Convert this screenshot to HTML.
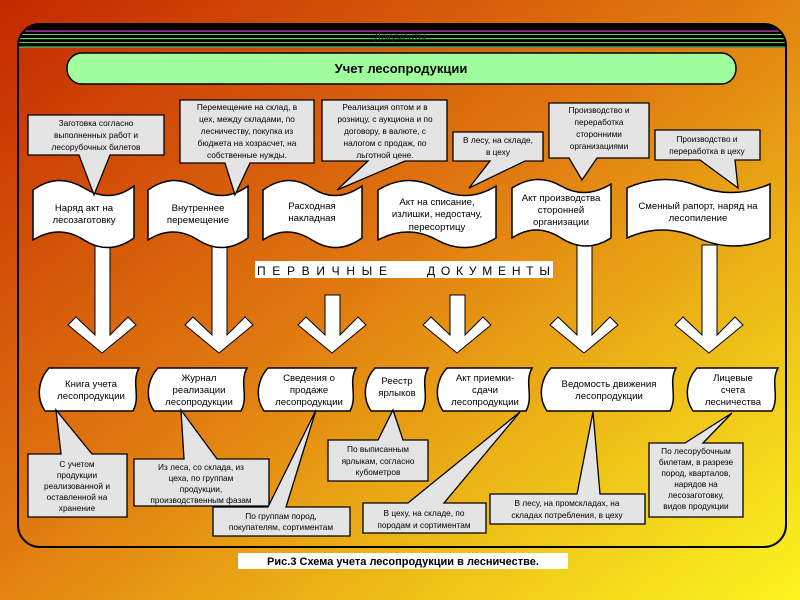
<!DOCTYPE html>
<html><head><meta charset="utf-8"><style>
html,body{margin:0;padding:0;width:800px;height:600px;overflow:hidden}
svg{display:block}
text{font-family:"Liberation Sans",sans-serif;fill:#000}
.c{font-size:8.3px;text-anchor:middle}
.d{font-size:9.6px;text-anchor:middle}
.cl{fill:#e4e4e4;stroke:#000;stroke-width:1.3}
.dc{fill:#fff;stroke:#000;stroke-width:1.5}
.ar{fill:#fff;stroke:#000;stroke-width:1}
</style></head><body>
<svg width="800" height="600" viewBox="0 0 800 600" xmlns="http://www.w3.org/2000/svg">
<defs>
<linearGradient id="bg" x1="0" y1="0" x2="1" y2="1">
<stop offset="0" stop-color="#c42800"/>
<stop offset="0.45" stop-color="#e07810"/>
<stop offset="0.75" stop-color="#eec018"/>
<stop offset="1" stop-color="#fbf520"/>
</linearGradient>
<clipPath id="fr"><rect x="18" y="24" width="768" height="523" rx="22"/></clipPath>
</defs>
<rect width="800" height="600" fill="url(#bg)"/>
<g clip-path="url(#fr)">
<rect x="18" y="24" width="768" height="24" fill="#000"/>
<rect x="18" y="30.5" width="768" height="1.2" fill="#d040d0"/>
<rect x="18" y="34" width="768" height="1" fill="#60d060"/>
<rect x="18" y="38" width="768" height="1.2" fill="#60d060"/>
<rect x="18" y="42" width="768" height="1" fill="#60d060"/>
<rect x="18" y="46.5" width="768" height="1.2" fill="#70e070"/>
</g>
<text x="400" y="40" style="font-size:10px;text-anchor:middle;fill:#222">Документы</text>
<rect x="18" y="24" width="768" height="523" rx="22" fill="none" stroke="#000" stroke-width="2"/>
<rect x="67" y="53" width="669" height="31" rx="15" fill="#a0ff9c" stroke="#000" stroke-width="1.5"/>
<text x="401" y="73" style="font-size:13px;font-weight:bold;text-anchor:middle">Учет лесопродукции</text>

<g class="ar">
<polygon points="95,245 110,245 110,335 128,317 136,325 102,353 68,325 76,317 95,335"/>
<polygon points="212,245 227,245 227,335 245,317 253,325 219,353 185,325 193,317 212,335"/>
<polygon points="325,295 340,295 340,335 358,317 366,325 332,353 298,325 306,317 325,335"/>
<polygon points="450,295 465,295 465,335 483,317 491,325 457,353 423,325 431,317 450,335"/>
<polygon points="577,245 592,245 592,335 610,317 618,325 584,353 550,325 558,317 577,335"/>
<polygon points="702,245 717,245 717,335 735,317 743,325 709,353 675,325 683,317 702,335"/>
</g>

<g class="dc">
<path d="M33 190 Q58 172 84 188 T134 186 L134 238 Q109 256 84 240 T33 240 Z"/>
<path d="M148 190 Q173 172 198 188 T248 186 L248 238 Q223 256 198 240 T148 240 Z"/>
<path d="M263 190 Q288 172 312 188 T362 186 L362 238 Q337 256 312 240 T263 240 Z"/>
<path d="M378 190 Q407 172 437 188 T496 186 L496 238 Q466 256 437 240 T378 240 Z"/>
<path d="M512 188 Q537 172 561 186 T611 184 L611 238 Q586 254 561 238 T512 238 Z"/>
<path d="M627 188 Q663 172 698 186 T770 184 L770 238 Q734 254 698 238 T627 238 Z"/>
</g>
<text class="d" x="84" y="211">Наряд акт на</text><text class="d" x="84" y="223">лесозаготовку</text>
<text class="d" x="198" y="211">Внутреннее</text><text class="d" x="198" y="223">перемещение</text>
<text class="d" x="312" y="209">Расходная</text><text class="d" x="312" y="221">накладная</text>
<text class="d" x="437" y="205">Акт на списание,</text><text class="d" x="437" y="217">излишки, недостачу,</text><text class="d" x="437" y="230">пересортицу</text>
<text class="d" x="561" y="201">Акт производства</text><text class="d" x="561" y="213">сторонней</text><text class="d" x="561" y="225">организации</text>
<text class="d" x="698" y="209">Сменный рапорт, наряд на</text><text class="d" x="698" y="221">лесопиление</text>

<g class="cl">
<path d="M28 115 H164 V155 H110 L94 195 L79 155 H28 Z"/>
<path d="M180 100 H314 V163 H250 L235 195 L225 163 H180 Z"/>
<path d="M322 100 H447 V161 H405 L337 190 L368 161 H322 Z"/>
<path d="M453 132 H543 V161 H525 L469 188 L490 161 H453 Z"/>
<path d="M549 103 H649 V158 H597 L582 180 L569 158 H549 Z"/>
<path d="M655 130 H760 V160 H735 L738 188 L700 160 H655 Z"/>
</g>
<text class="c" x="96" y="126">Заготовка согласно</text><text class="c" x="96" y="138">выполненных работ и</text><text class="c" x="96" y="150">лесорубочных билетов</text>
<text class="c" x="247" y="110">Перемещение на склад, в</text><text class="c" x="247" y="122">цех, между складами, по</text><text class="c" x="247" y="134">лесничеству, покупка из</text><text class="c" x="247" y="146">бюджета на хозрасчет, на</text><text class="c" x="247" y="158">собственные нужды.</text>
<text class="c" x="385" y="110">Реализация оптом и в</text><text class="c" x="385" y="122">розницу, с аукциона и по</text><text class="c" x="385" y="134">договору, в валюте, с</text><text class="c" x="385" y="146">налогом с продаж, по</text><text class="c" x="385" y="158">льготной цене.</text>
<text class="c" x="498" y="143">В лесу, на складе,</text><text class="c" x="498" y="155">в цеху</text>
<text class="c" x="599" y="113">Производство и</text><text class="c" x="599" y="125">переработка</text><text class="c" x="599" y="137">сторонними</text><text class="c" x="599" y="149">организациями</text>
<text class="c" x="707" y="142">Производство и</text><text class="c" x="707" y="154">переработка в цеху</text>

<rect x="255" y="261" width="298" height="17" fill="#fff"/>
<text x="257" y="275" textLength="130" lengthAdjust="spacing" style="font-size:12px">ПЕРВИЧНЫЕ</text>
<text x="427" y="275" textLength="123" lengthAdjust="spacing" style="font-size:12px">ДОКУМЕНТЫ</text>

<g class="dc">
<path d="M49 368 L139 368 C131 383 141 396 133 411 L45 411 C36 398 38 380 49 368 Z"/>
<path d="M158 368 L247 368 C239 383 249 396 241 411 L154 411 C145 398 147 380 158 368 Z"/>
<path d="M268 368 L356 368 C348 383 358 396 350 411 L264 411 C255 398 257 380 268 368 Z"/>
<path d="M375 368 L428 368 C420 383 430 396 422 411 L371 411 C362 398 364 380 375 368 Z"/>
<path d="M447 368 L532 368 C524 383 534 396 526 411 L443 411 C434 398 436 380 447 368 Z"/>
<path d="M551 368 L676 368 C668 383 678 396 670 411 L547 411 C538 398 540 380 551 368 Z"/>
<path d="M697 368 L778 368 C770 383 780 396 772 411 L693 411 C684 398 686 380 697 368 Z"/>
</g>
<text class="d" x="91" y="387">Книга учета</text><text class="d" x="91" y="399">лесопродукции</text>
<text class="d" x="199" y="381">Журнал</text><text class="d" x="199" y="393">реализации</text><text class="d" x="199" y="405">лесопродукции</text>
<text class="d" x="309" y="381">Сведения о</text><text class="d" x="309" y="393">продаже</text><text class="d" x="309" y="405">лесопродукции</text>
<text class="d" x="397" y="384">Реестр</text><text class="d" x="397" y="396">ярлыков</text>
<text class="d" x="485" y="381">Акт приемки-</text><text class="d" x="485" y="393">сдачи</text><text class="d" x="485" y="405">лесопродукции</text>
<text class="d" x="609" y="387">Ведомость движения</text><text class="d" x="609" y="399">лесопродукции</text>
<text class="d" x="733" y="381">Лицевые</text><text class="d" x="733" y="393">счета</text><text class="d" x="733" y="405">лесничества</text>

<g class="cl">
<path d="M28 454 H61 L56 410 L92 454 H127 V517 H28 Z"/>
<path d="M134 459 H184 L181 410 L217 459 H269 V506 H134 Z"/>
<path d="M213 507 H268 L316 410 L286 507 H350 V536 H213 Z"/>
<path d="M328 440 H378 L393 410 L403 440 H428 V481 H328 Z"/>
<path d="M363 503 H408 L520 412 L444 503 H486 V533 H363 Z"/>
<path d="M490 494 H577 L593 412 L600 494 H645 V524 H490 Z"/>
<path d="M649 443 H685 L732 413 L703 443 H743 V517 H649 Z"/>
</g>
<text class="c" x="77" y="467">С учетом</text><text class="c" x="77" y="478">продукции</text><text class="c" x="77" y="489">реализованной и</text><text class="c" x="77" y="500">оставленной на</text><text class="c" x="77" y="511">хранение</text>
<text class="c" x="201" y="470">Из леса, со склада, из</text><text class="c" x="201" y="481">цеха, по группам</text><text class="c" x="201" y="492">продукции,</text><text class="c" x="201" y="503">производственным фазам</text>
<text class="c" x="281" y="519">По группам пород,</text><text class="c" x="281" y="530">покупателям, сортиментам</text>
<text class="c" x="378" y="452">По выписанным</text><text class="c" x="378" y="464">ярлыкам, согласно</text><text class="c" x="378" y="475">кубометров</text>
<text class="c" x="424" y="516">В цеху, на складе, по</text><text class="c" x="424" y="528">породам и сортиментам</text>
<text class="c" x="567" y="506">В лесу, на промскладах, на</text><text class="c" x="567" y="518">складах потребления, в цеху</text>
<text class="c" x="696" y="454">По лесорубочным</text><text class="c" x="696" y="465">билетам, в разрезе</text><text class="c" x="696" y="476">пород, кварталов,</text><text class="c" x="696" y="487">нарядов на</text><text class="c" x="696" y="498">лесозаготовку,</text><text class="c" x="696" y="509">видов продукции</text>

<rect x="238" y="553" width="330" height="16" fill="#fff"/>
<text x="403" y="565" style="font-size:11px;font-weight:bold;text-anchor:middle">Рис.3  Схема учета лесопродукции в лесничестве.</text>
</svg>
</body></html>
